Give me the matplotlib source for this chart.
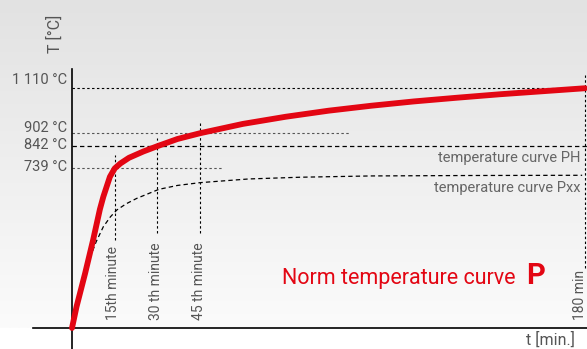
import numpy as np
import matplotlib
matplotlib.use("Agg")
import matplotlib.pyplot as plt

plt.rcParams['font.family'] = ['Roboto', 'DejaVu Sans']

# Norm temperature curve P (red)
p_time = [0, 1.6, 4.6, 7.4, 9.8, 11, 13.3, 15, 17, 20, 25, 30, 37, 45, 60,
          75, 90, 105, 120, 135, 150, 165, 180]
p_temp = [0, 99, 253, 407, 550, 608, 700, 739, 762, 788, 817, 842, 875, 902, 945,
          978, 1006, 1029, 1049, 1066, 1082, 1096, 1110]

# temperature curve Pxx (black dashed)
pxx_time = [6.3, 8.5, 11, 13.5, 15.7, 19, 22.7, 30.5, 37, 45, 62, 80, 105, 140, 179]
pxx_temp = [325, 400, 469, 515, 546, 575, 600, 642, 660, 673, 690, 698, 704, 706, 707]

ref_temps = [739, 842, 902, 1110]
ref_labels = ["739 °C", "842 °C", "902 °C", "1 110 °C"]
mark_times = [15, 30, 45, 180]
mark_labels = ["15th minute", "30 th minute", "45 th minute", "180 min"]

RED = "#e30613"
GREY = "#555555"

fig = plt.figure(figsize=(5.87, 3.49), dpi=100)
ax = fig.add_axes([0, 0, 1, 1])
xmin, xmax = -25.26, 180.7
ymin, ymax = -97.2, 1518.5
ax.set_xlim(xmin, xmax)
ax.set_ylim(ymin, ymax)

# background gradient above the time axis
grad = np.linspace(0, 1, 256).reshape(-1, 1)
cmap = matplotlib.colors.LinearSegmentedColormap.from_list("bg", ["#fbfbfb", "#e2e2e2"])
ax.imshow(grad, extent=[xmin, xmax, 0, ymax], origin="lower", aspect="auto",
          cmap=cmap, zorder=0)

# axes
for s in ["top", "right"]:
    ax.spines[s].set_visible(False)
ax.spines["left"].set_position(("data", 0))
ax.spines["bottom"].set_position(("data", 0))
ax.spines["left"].set_bounds(ymin, 1199)
ax.spines["bottom"].set_bounds(-13.7, xmax)
ax.spines["left"].set_linewidth(1.2)
ax.spines["bottom"].set_linewidth(1.2)
ax.set_xticks([])
ax.set_yticks([])

# horizontal reference lines
ref_end = {739: 52.6, 842: xmax, 902: 97.5, 1110: xmax}
for temp in ref_temps:
    if temp == 842:
        ax.plot([0, ref_end[temp]], [temp, temp], color="black", lw=0.9,
                linestyle=(0, (3.5, 2.5)), zorder=2)
    else:
        col = "black" if temp == 1110 else GREY
        ax.plot([0, ref_end[temp]], [temp, temp], color=col, lw=0.8,
                linestyle=(0, (2.2, 2.2)), zorder=2)

# vertical reference lines
mark_span = {15: (407, 801), 30: (440, 880), 45: (440, 954), 180: (278, 1171)}
for t in mark_times:
    lo, hi = mark_span[t]
    ax.plot([t, t], [lo, hi], color="black", lw=0.8,
            linestyle=(0, (2.2, 2.2)), zorder=2)

# y labels
label_y = {739: 744, 842: 845, 902: 925, 1110: 1150}
for temp, lab in zip(ref_temps, ref_labels):
    ax.text(-1.8, label_y[temp], lab, ha="right", va="center",
            fontsize=10.5, color=GREY)

# rotated minute labels
label_x = {15: 14.5, 30: 29.5, 45: 44.6, 180: 178.3}
for t, lab in zip(mark_times, mark_labels):
    ax.text(label_x[t], 37, lab, rotation=90, ha="center", va="bottom",
            fontsize=10, color=GREY)

# curves
ax.plot(pxx_time, pxx_temp, color="black", lw=0.9, linestyle=(0, (3.5, 2.5)), zorder=3)
ax.plot(p_time, p_temp, color=RED, lw=4.2, solid_capstyle="round",
        solid_joinstyle="round", zorder=4)

# curve labels
ax.text(178.4, 789, "temperature curve PH", ha="right", va="center",
        fontsize=10.5, color="#666666")
ax.text(178.4, 650, "temperature curve Pxx", ha="right", va="center",
        fontsize=10.5, color="#666666")
ax.text(73.7, 227, "Norm temperature curve", ha="left", va="center",
        fontsize=15.5, color=RED)
ax.text(159.5, 240, "P", ha="left", va="center", fontsize=21,
        fontweight="bold", color=RED)

# axis titles
ax.text(-6.0, 1360, "T [°C]", rotation=90, ha="center", va="center",
        fontsize=11.5, color=GREY)
ax.text(176.5, -56, "t [min.]", ha="right", va="center",
        fontsize=11.5, color=GREY)

fig.savefig("out.png", dpi=100)
